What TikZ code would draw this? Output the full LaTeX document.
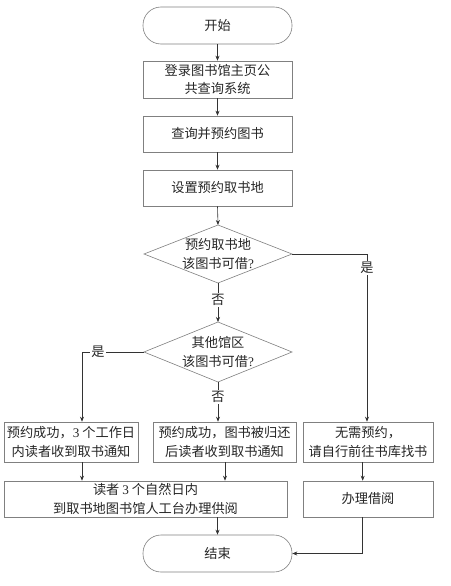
\documentclass[tikz,border=0pt]{standalone}
\usepackage{fontspec}
\setmainfont{Liberation Serif}
\newfontfamily\cjk{Noto Sans CJK SC}
\usetikzlibrary{arrows.meta}
\newcommand{\dg}[1]{{\rmfamily #1}}
\begin{document}
\begin{tikzpicture}[x=1pt,y=-1pt,
  every node/.style={font=\cjk\fontsize{13.2}{18.5}\selectfont, text=black!85},
  box/.style={draw=black!50, line width=0.6pt, rectangle, inner sep=0pt, align=center},
  term/.style={box, rounded corners=18pt, minimum width=149pt, minimum height=37pt},
  arr/.style={draw=black!80, line width=0.6pt, -{Stealth[length=5pt,width=4pt]}},
  ln/.style={draw=black!80, line width=0.6pt},
  lbl/.style={fill=white, inner sep=1.5pt}]
\useasboundingbox (0,0) rectangle (450,586);
\fill[white] (0,0) rectangle (450,586);

\node[term] (start) at (217.5,25.5) {开始};
\node[box, minimum width=149pt, minimum height=37pt] (b1) at (217.5,79.5) {登录图书馆主页公\\共查询系统};
\node[box, minimum width=149pt, minimum height=36pt] (b2) at (217.5,134) {查询并预约图书};
\node[box, minimum width=149pt, minimum height=36pt] (b3) at (217.5,188) {设置预约取书地};

% diamond 1
\coordinate (d1t) at (218,225);
\coordinate (d1r) at (292,254);
\coordinate (d1b) at (218,283);
\coordinate (d1l) at (144,254);
\draw[draw=black!50, line width=0.6pt] (d1t) -- (d1r) -- (d1b) -- (d1l) -- cycle;
\node[align=center, inner sep=0pt] (d1) at (218,254) {预约取书地\\该图书可借\dg{?}};

% diamond 2
\coordinate (d2t) at (218,322);
\coordinate (d2r) at (292,352);
\coordinate (d2b) at (218,382);
\coordinate (d2l) at (144,352);
\draw[draw=black!50, line width=0.6pt] (d2t) -- (d2r) -- (d2b) -- (d2l) -- cycle;
\node[align=center, inner sep=0pt] (d2) at (218,352) {其他馆区\\该图书可借\dg{?}};

\node[box, minimum width=134pt, minimum height=40pt] (L) at (71,442) {预约成功，\dg{3} 个工作日\\内读者收到取书通知};
\node[box, minimum width=143pt, minimum height=40pt] (M) at (224.5,442) {预约成功，图书被归还\\后读者收到取书通知};
\node[box, minimum width=130pt, minimum height=40pt] (R) at (368,442) {无需预约，\\请自行前往书库找书};
\node[box, minimum width=283pt, minimum height=36pt] (big) at (145.5,499) {读者 \dg{3} 个自然日内\\到取书地图书馆人工台办理供阅};
\node[box, minimum width=130pt, minimum height=36pt] (R2) at (368,499) {办理借阅};
\node[term] (end) at (217.5,553.5) {结束};

% connectors
\draw[arr] (start) -- (b1);
\draw[arr] (b1) -- (b2);
\draw[arr] (b2) -- (b3);
\draw[arr] (b3.south) -- (d1t);

\coordinate (n1) at (218,300);
\draw[arr] (d1b) -- (d2t);
\node[lbl] at (n1) {否};

\coordinate (y1a) at (367,254);
\coordinate (y1b) at (367,268);
\draw[arr] (d1r) -- (y1a) -- (y1a |- R.north);
\node[lbl] at (y1b) {是};

\coordinate (y2a) at (82,352);
\draw[arr] (d2l) -- (y2a) -- (y2a |- L.north);
\node[lbl] at (98,352) {是};

\draw[arr] (d2b) -- (d2b |- M.north);
\node[lbl] at (218,397) {否};

\coordinate (c1) at (82,462);
\draw[arr] (c1) -- (c1 |- big.north);
\coordinate (c2) at (225,462);
\draw[arr] (c2) -- (c2 |- big.north);
\coordinate (c3) at (362.7,462);
\draw[arr] (c3) -- (c3 |- R2.north);
\coordinate (c4) at (217.5,517);
\draw[arr] (c4) -- (end);
\coordinate (c5) at (362.7,517);
\draw[arr] (c5) -- (c5 |- end.east) -- (end.east);
\end{tikzpicture}
\end{document}
